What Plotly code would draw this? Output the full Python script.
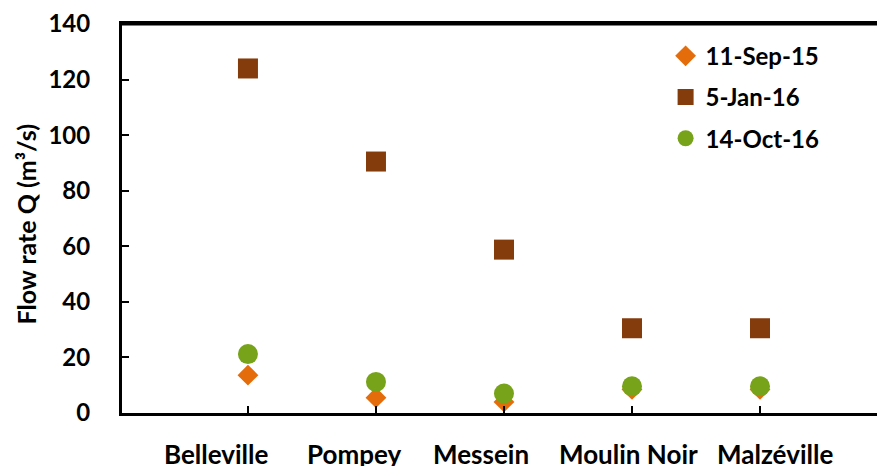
import plotly.graph_objects as go

sites = ["Belleville", "Pompey", "Messein", "Moulin Noir", "Malzéville"]
sep15 = [13.6, 5.5, 4.0, 8.5, 8.5]
jan16 = [124.0, 90.5, 58.8, 30.5, 30.5]
oct16 = [21.2, 11.2, 7.0, 9.6, 9.6]
series_names = ["11-Sep-15", "5-Jan-16", "14-Oct-16"]
y_ticks = [0, 20, 40, 60, 80, 100, 120, 140]

FONT = "Lato"
idx = list(range(len(sites)))

fig = go.Figure()
fig.add_trace(go.Scatter(x=idx, y=sep15, mode="markers", name=series_names[0],
                         legendgroup="a",
                         marker=dict(symbol="diamond", size=16, color="#E46C0A")))
fig.add_trace(go.Scatter(x=idx, y=jan16, mode="markers", name=series_names[1],
                         legendgroup="b",
                         marker=dict(symbol="square", size=20, color="#843C0C")))
fig.add_trace(go.Scatter(x=idx, y=oct16, mode="markers", name=series_names[2],
                         legendgroup="c",
                         marker=dict(symbol="circle", size=20, color="#77A31A")))

label_shift = [-31, -22, -23, -3, 15]
for i, s in enumerate(sites):
    fig.add_annotation(x=i, y=0, xref="x", yref="paper", text=f"<b>{s}</b>",
                       showarrow=False, xshift=label_shift[i], yanchor="top",
                       yshift=-23, font=dict(family=FONT, size=26, color="black"))

fig.add_annotation(x=0, y=0.5, xref="paper", yref="paper", xshift=-114, yshift=-6,
                   text="<b>Flow rate Q (m³/s)</b>", textangle=-90, showarrow=False,
                   font=dict(family=FONT, size=25, color="black"))

# top border line of the plot area
fig.add_shape(type="line", xref="paper", yref="y", x0=0, x1=1, y0=140, y1=140,
              layer="above", line=dict(color="black", width=3))

fig.update_layout(
    width=877, height=466,
    margin=dict(l=122, r=0, t=24, b=53, autoexpand=False),
    paper_bgcolor="white", plot_bgcolor="white",
    font=dict(family=FONT, color="black"),
    showlegend=True,
    legend=dict(x=0.72, y=0.975, xanchor="left", yanchor="top",
                font=dict(family=FONT, size=24, color="black", weight="bold"),
                tracegroupgap=7, bgcolor="rgba(0,0,0,0)"),
)
fig.update_xaxes(range=[-0.984, 4.914], tickmode="array", tickvals=idx,
                 ticktext=["" for _ in sites], showgrid=False, zeroline=False,
                 showline=True, linecolor="black", linewidth=3, mirror=True,
                 ticks="inside", ticklen=7, tickwidth=1.5, tickcolor="black")
fig.update_yaxes(range=[0, 140], tickmode="array", tickvals=y_ticks,
                 showgrid=False, zeroline=False,
                 showline=True, linecolor="black", linewidth=3,
                 ticks="inside", ticklen=7, tickwidth=1.5, tickcolor="black",
                 ticklabelstandoff=24,
                 tickfont=dict(family=FONT, size=24, color="black", weight="bold"))

fig.write_html("out.html", config={"displayModeBar": False},
               post_script="document.body.style.margin='0';")
